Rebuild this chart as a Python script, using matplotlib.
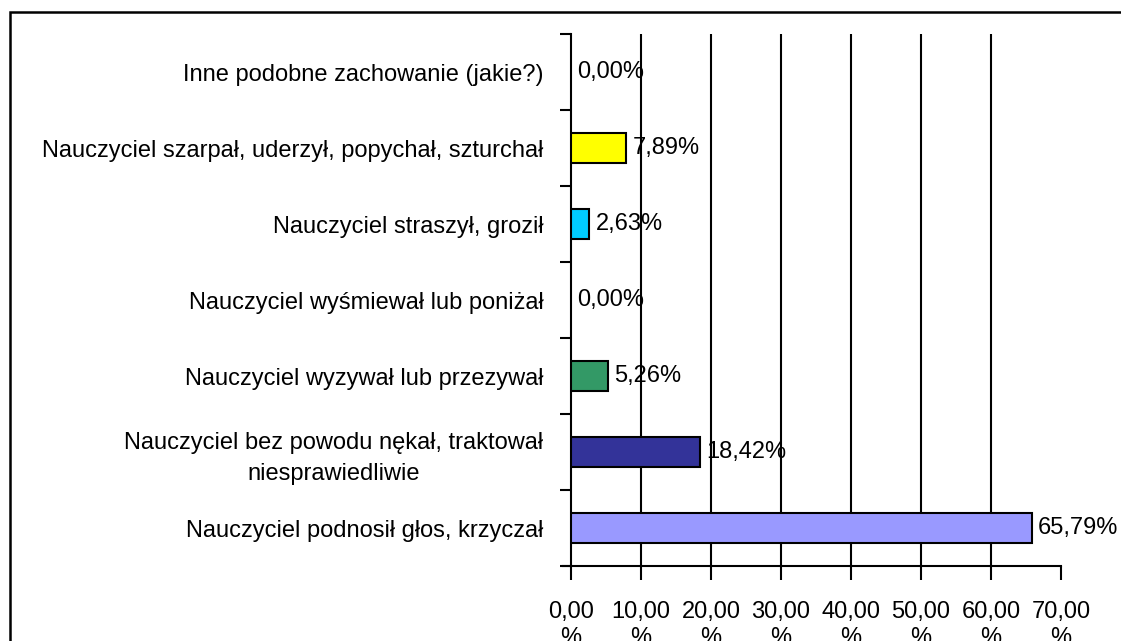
import matplotlib
matplotlib.use("Agg")
import matplotlib.pyplot as plt
from matplotlib.patches import Rectangle

plt.rcParams['font.family'] = ['Liberation Sans', 'DejaVu Sans']

categories = [
    "Nauczyciel podnosił głos, krzyczał",
    "Nauczyciel bez powodu nękał, traktował\nniesprawiedliwie",
    "Nauczyciel wyzywał lub przezywał",
    "Nauczyciel wyśmiewał lub poniżał",
    "Nauczyciel straszył, groził",
    "Nauczyciel szarpał, uderzył, popychał, szturchał",
    "Inne podobne zachowanie (jakie?)",
]
values = [65.79, 18.42, 5.26, 0.00, 2.63, 7.89, 0.00]
colors = ["#9999FF", "#333399", "#339966", "#FFFFFF", "#00CCFF", "#FFFF00", "#FFFFFF"]
xticks = [0, 10, 20, 30, 40, 50, 60, 70]
xtick_labels = ["0,00\n%", "10,00\n%", "20,00\n%", "30,00\n%", "40,00\n%", "50,00\n%", "60,00\n%", "70,00\n%"]

W, H = 1121, 641
fig = plt.figure(figsize=(W / 100, H / 100), dpi=100)
ax = fig.add_axes([571 / W, 1 - 566 / H, (1061 - 571) / W, (566 - 34) / H])

fs = 17
ypos = list(range(len(categories)))
for y, v, c in zip(ypos, values, colors):
    if v > 0:
        ax.barh(y, v, height=0.4, color=c, edgecolor="black", linewidth=1.5, zorder=3)
    ax.text(v + 0.9, y, f"{v:.2f}%".replace(".", ","), va="center", ha="left",
            fontsize=fs, zorder=4)

ax.set_xlim(0, 70)
ax.set_ylim(-0.5, len(categories) - 0.5)
for x in xticks[1:-1]:
    ax.axvline(x, color="black", linewidth=1.5, zorder=1)

ax.set_xticks(xticks)
ax.set_xticklabels(xtick_labels, fontsize=fs, linespacing=1.25)
ax.set_yticks([i - 0.5 for i in range(len(categories) + 1)], minor=False)
ax.set_yticklabels([""] * (len(categories) + 1))
ax.set_yticks(ypos, minor=True)
ax.set_yticklabels(categories, minor=True, fontsize=fs, multialignment="center",
                   linespacing=1.5)
ax.tick_params(axis="y", which="minor", length=0, pad=20)
ax.tick_params(axis="y", which="major", length=8, width=1.5, direction="out")
ax.tick_params(axis="x", length=10, width=1.5, direction="out", pad=15)

for side in ["top", "right"]:
    ax.spines[side].set_visible(False)
ax.spines["left"].set_linewidth(1.5)
ax.spines["bottom"].set_linewidth(1.5)
ax.spines["bottom"].set_bounds(-1.2, 70)
ax.set_facecolor("none")

frame = Rectangle((10 / W, -0.1), 1.2, 1 - 12 / H + 0.1, transform=fig.transFigure,
                  fill=False, edgecolor="black", linewidth=1.8)
fig.patches.append(frame)

fig.savefig("out.png", dpi=100)
